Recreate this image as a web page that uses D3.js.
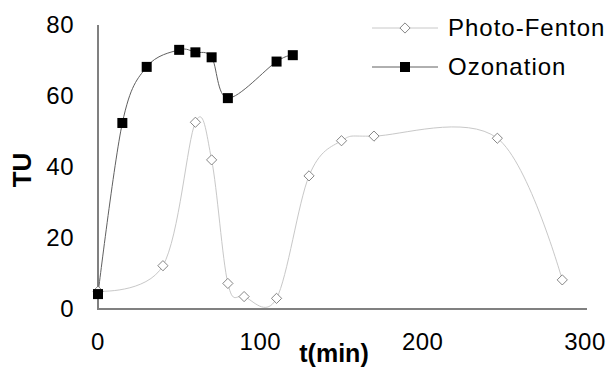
<!DOCTYPE html>
<html>
<head>
<meta charset="utf-8">
<script src="https://cdn.jsdelivr.net/npm/d3@7"></script>
<style>
  body { margin: 0; background: #fff; }
  text { font-family: Arial, "Liberation Sans", sans-serif; }
</style>
</head>
<body>
<div id="chart"></div>
<script>
// data
const pfTime = [0, 40, 60, 70, 80, 90, 110, 130, 150, 170, 246, 286];
const pfTU = [5, 12.2, 52.6, 42, 7.2, 3.5, 3, 37.5, 47.4, 48.7, 48.1, 8.2];
const ozTime = [0, 15, 30, 50, 60, 70, 80, 110, 120];
const ozTU = [4.2, 52.4, 68.2, 73, 72.3, 70.9, 59.4, 69.7, 71.5];
const xTicks = [0, 100, 200, 300];
const yTicks = [0, 20, 40, 60, 80];

const width = 610, height = 368;
const svg = d3.select("#chart").append("svg").attr("width", width).attr("height", height);

const x = d3.scaleLinear().domain([0, 300]).range([98, 585]);
const y = d3.scaleLinear().domain([0, 80]).range([309, 25]);

// axes (just lines, no ticks)
svg.append("line").attr("x1", x(0)).attr("x2", x(0)).attr("y1", y(80)).attr("y2", y(0))
    .attr("stroke", "#808080").attr("stroke-width", 2);
svg.append("line").attr("x1", x(0) - 1).attr("x2", 587).attr("y1", y(0)).attr("y2", y(0))
    .attr("stroke", "#808080").attr("stroke-width", 2);

svg.selectAll(".ytick").data(yTicks).enter().append("text")
    .attr("x", 74).attr("y", d => y(d)).attr("dy", "0.35em")
    .attr("text-anchor", "end").style("font-size", "24px").style("letter-spacing", "0.5px").text(d => d);
svg.selectAll(".xtick").data(xTicks).enter().append("text")
    .attr("x", d => x(d)).attr("y", 342).attr("dy", "0.35em")
    .attr("text-anchor", "middle").style("font-size", "24px").style("letter-spacing", "0.5px").text(d => d);

svg.append("text").attr("x", 334).attr("y", 353).attr("dy", "0.35em")
    .attr("text-anchor", "middle").style("font-size", "25px").style("font-weight", "bold").text("t(min)");
svg.append("text").attr("transform", "translate(22,170) rotate(-90)").attr("dy", "0.35em")
    .attr("text-anchor", "middle").style("font-size", "26px").style("font-weight", "bold").text("TU");

const line = d3.line().x(d => x(d[0])).y(d => y(d[1])).curve(d3.curveCardinal.tension(0));
const pfData = pfTime.map((t, i) => [t, pfTU[i]]);
const ozData = ozTime.map((t, i) => [t, ozTU[i]]);

svg.append("path").datum(pfData).attr("d", line).attr("fill", "none")
    .attr("stroke", "#c8c8c8").attr("stroke-width", 1);
svg.append("path").datum(ozData).attr("d", line).attr("fill", "none")
    .attr("stroke", "#606060").attr("stroke-width", 1);

const diamond = d3.symbol().type(d3.symbolSquare).size(52);
svg.selectAll(".pf").data(pfData).enter().append("path")
    .attr("d", diamond)
    .attr("transform", d => `translate(${x(d[0])},${y(d[1])}) rotate(45)`)
    .attr("fill", "#fff").attr("stroke", "#707070").attr("stroke-width", 0.8);
svg.selectAll(".oz").data(ozData).enter().append("rect")
    .attr("x", d => x(d[0]) - 5).attr("y", d => y(d[1]) - 5)
    .attr("width", 10).attr("height", 10).attr("fill", "#000");

// legend
svg.append("line").attr("x1", 372).attr("x2", 438).attr("y1", 28).attr("y2", 28)
    .attr("stroke", "#c8c8c8").attr("stroke-width", 1);
svg.append("path").attr("d", diamond).attr("transform", "translate(405,28) rotate(45)")
    .attr("fill", "#fff").attr("stroke", "#707070").attr("stroke-width", 0.8);
svg.append("text").attr("x", 448).attr("y", 28).attr("dy", "0.35em")
    .style("font-size", "24px").style("letter-spacing", "1px").text("Photo-Fenton");
svg.append("line").attr("x1", 372).attr("x2", 438).attr("y1", 67).attr("y2", 67)
    .attr("stroke", "#606060").attr("stroke-width", 1);
svg.append("rect").attr("x", 400).attr("y", 62).attr("width", 10).attr("height", 10).attr("fill", "#000");
svg.append("text").attr("x", 448).attr("y", 67).attr("dy", "0.35em")
    .style("font-size", "24px").style("letter-spacing", "1px").text("Ozonation");
</script>
</body>
</html>
